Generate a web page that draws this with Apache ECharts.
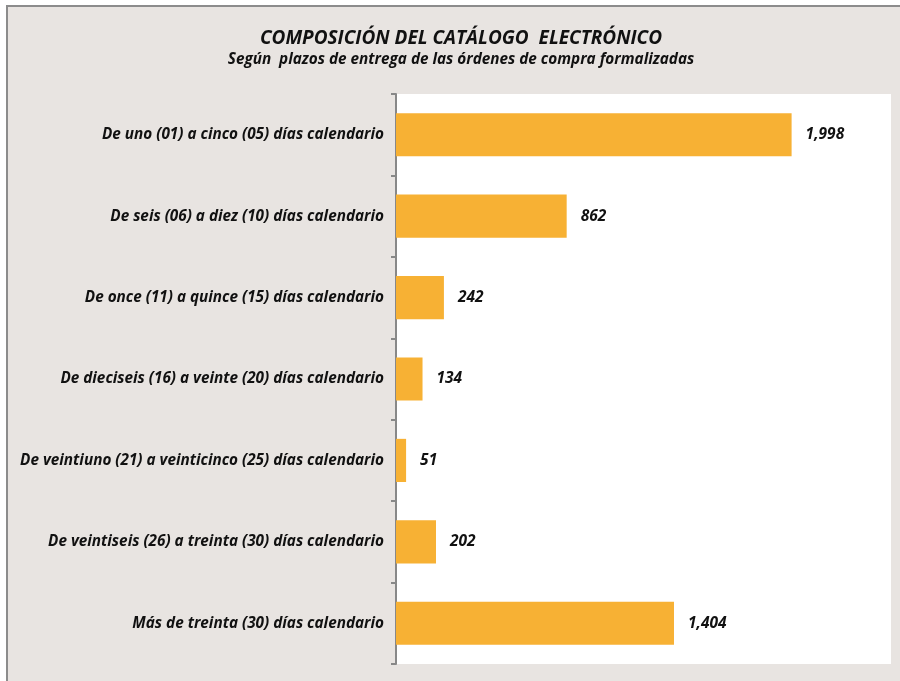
<!DOCTYPE html>
<html><head><meta charset="utf-8">
<script src="https://cdn.jsdelivr.net/npm/echarts@6/dist/echarts.min.js"></script>
<style>html,body{margin:0;padding:0;background:#fff}#c{width:900px;height:681px}</style>
</head><body><div id="c"></div>
<script>
const categories = [
  'De uno (01) a cinco (05) días calendario',
  'De seis (06) a diez (10) días calendario',
  'De once (11) a quince (15) días calendario',
  'De dieciseis (16) a veinte (20) días calendario',
  'De veintiuno (21) a veinticinco (25) días calendario',
  'De veintiseis (26) a treinta (30) días calendario',
  'Más de treinta (30) días calendario'
];
const values = [1998, 862, 242, 134, 51, 202, 1404];
const titleText = 'COMPOSICIÓN DEL CATÁLOGO  ELECTRÓNICO';
const subtitleText = 'Según  plazos de entrega de las órdenes de compra formalizadas';

const FONT = 'Open Sans';
const chart = echarts.init(document.getElementById('c'), null, {renderer: 'canvas'});
chart.setOption({
  backgroundColor: '#ffffff',
  animation: false,
  graphic: [{
    type: 'rect', z: -10, silent: true,
    shape: {x: 7, y: 6, width: 900, height: 690},
    style: {fill: '#E8E4E1', stroke: '#8C8C8C', lineWidth: 2}
  }],
  title: {
    text: titleText,
    subtext: subtitleText,
    left: 456, top: 24, textAlign: 'center',
    itemGap: 4,
    textStyle: {fontFamily: FONT, fontSize: 19, fontWeight: 'bold', fontStyle: 'italic', color: '#111'},
    subtextStyle: {fontFamily: FONT, fontSize: 15.3, fontWeight: 'bold', fontStyle: 'italic', color: '#111'}
  },
  grid: {left: 396, right: 9, top: 94, bottom: 17, show: true, backgroundColor: '#ffffff', borderWidth: 0, containLabel: false},
  xAxis: {type: 'value', min: 0, max: 2500, show: false, splitLine: {show: false}},
  yAxis: {
    type: 'category', data: categories, inverse: true,
    axisLine: {show: true, lineStyle: {color: '#888888', width: 2}},
    axisTick: {show: true, length: 5, lineStyle: {color: '#888888', width: 2}},
    axisLabel: {fontFamily: FONT, fontSize: 15.3, fontWeight: 'bold', fontStyle: 'italic', color: '#111', margin: 12}
  },
  series: [{
    type: 'bar', data: values, barWidth: '53%',
    itemStyle: {color: '#F7B134'},
    label: {show: true, position: 'right', distance: 14,
      formatter: p => p.value.toLocaleString('en-US'),
      fontFamily: FONT, fontSize: 15.5, fontWeight: 'bold', fontStyle: 'italic', color: '#111'}
  }]
});
</script></body></html>
